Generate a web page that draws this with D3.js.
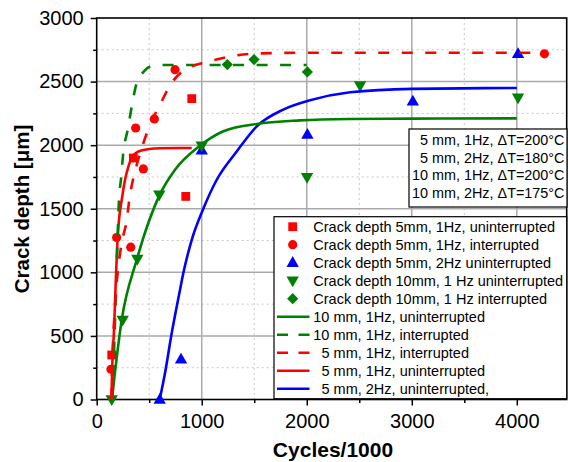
<!DOCTYPE html>
<html><head><meta charset="utf-8">
<script src="https://cdn.jsdelivr.net/npm/d3@7"></script>
<style>
html,body{margin:0;padding:0;background:#fff;}
svg{display:block;font-family:"Liberation Sans",Arial,sans-serif;}
</style></head>
<body><svg id="c" width="568" height="462"></svg>
<script>
// ---- data ----
const xTicks = [0, 1000, 2000, 3000, 4000];
const yTicks = [0, 500, 1000, 1500, 2000, 2500, 3000];
const xMinor = [500, 1500, 2500, 3500];
const yMinor = [250, 750, 1250, 1750, 2250, 2750];

const sq5mm1HzUnint = [[143,350],[349,1899],[848,1597],[905,2366]];
const ci5mm1HzInt = [[136,238],[190,1274],[324,1198],[371,2135],[444,1813],[549,2206],[746,2594],[4263,2718]];
const tri5mm2HzUnint = [[600,0],[803,316],[1000,1959],[2006,2083],[3010,2345],[4012,2718]];
const tri10mm1HzUnint = [[143,0],[247,626],[387,1106],[596,1610],[1000,1996],[2003,1748],[2508,2469],[4012,2374]];
const dia10mm1HzInt = [[1244,2634],[1498,2673],[2006,2576]];

const fit10mm1HzUnint = [[145,0],[238,626],[381,1098],[603,1615],[746,1807],[984,1996],[1206,2109],[1524,2167],[1937,2195],[2413,2206],[3000,2209],[4000,2211]];
const fit10mm1HzInt = [[150,0],[170,500],[185,900],[200,1300],[212,1570],[231,1730],[253,1940],[295,2120],[333,2300],[381,2490],[450,2580],[510,2618],[600,2630],[2000,2630]];
const fit5mm1HzInt = [[140,0],[150,340],[168,650],[184,860],[206,1045],[238,1230],[286,1410],[317,1610],[333,1680],[400,1900],[444,2015],[508,2160],[603,2320],[714,2490],[800,2570],[905,2620],[1000,2645],[1100,2665],[1250,2695],[1500,2720],[2000,2727],[4250,2727]];
const fit5mm1HzUnint = [[140,0],[149,285],[165,550],[181,915],[200,1280],[244,1600],[270,1730],[301,1830],[333,1900],[396,1950],[500,1970],[600,1976],[905,1978]];
const fit5mm2HzUnint = [[600,0],[650,206],[714,521],[793,862],[825,994],[905,1256],[1015,1500],[1143,1728],[1333,1950],[1524,2148],[1777,2280],[2031,2353],[2413,2416],[3000,2443],[4000,2450]];

const annotLines = ["5 mm, 1Hz, \u0394T=200\u00B0C","5 mm, 2Hz, \u0394T=180\u00B0C","10 mm, 1Hz, \u0394T=200\u00B0C","10 mm, 2Hz, \u0394T=175\u00B0C"];

const RED="#ff0000", GREEN="#008000", BLUE="#0000ff";

// ---- layout ----
const svg = d3.select("#c");
const L=96.7, R=566.7, T=18, B=399.5;
const x = d3.scaleLinear().domain([0,4475]).range([L,R]);
const y = d3.scaleLinear().domain([0,3000]).range([B,T]);

// grid
const g = svg.append("g");
g.selectAll(".mnx").data(xMinor).enter().append("line")
 .attr("x1",d=>x(d)).attr("x2",d=>x(d)).attr("y1",T).attr("y2",B)
 .attr("stroke","#c8c8c8").attr("stroke-width",1).attr("stroke-dasharray","2,3");
g.selectAll(".mny").data(yMinor).enter().append("line")
 .attr("x1",L).attr("x2",R).attr("y1",d=>y(d)).attr("y2",d=>y(d))
 .attr("stroke","#c8c8c8").attr("stroke-width",1).attr("stroke-dasharray","2,3");
g.selectAll(".mjx").data(xTicks.filter(d=>d>0)).enter().append("line")
 .attr("x1",d=>x(d)).attr("x2",d=>x(d)).attr("y1",T).attr("y2",B)
 .attr("stroke","#aaaaaa").attr("stroke-width",1.5);
g.selectAll(".mjy").data(yTicks.filter(d=>d>0&&d<3000)).enter().append("line")
 .attr("x1",L).attr("x2",R).attr("y1",d=>y(d)).attr("y2",d=>y(d))
 .attr("stroke","#aaaaaa").attr("stroke-width",1.5);

// axes
const xAx = svg.append("g").attr("transform",`translate(0,${B})`)
 .call(d3.axisBottom(x).tickValues(xTicks).tickSize(6).tickPadding(8).tickFormat(d3.format("d")));
const xAxMinor = svg.append("g").attr("transform",`translate(0,${B})`)
 .call(d3.axisBottom(x).tickValues(xMinor).tickSize(3.5).tickFormat(""));
const yAx = svg.append("g").attr("transform",`translate(${L},0)`)
 .call(d3.axisLeft(y).tickValues(yTicks).tickSize(6).tickPadding(7).tickFormat(d3.format("d")));
const yAxMinor = svg.append("g").attr("transform",`translate(${L},0)`)
 .call(d3.axisLeft(y).tickValues(yMinor).tickSize(3.5).tickFormat(""));
[xAx,xAxMinor,yAx,yAxMinor].forEach(a=>{
  a.select(".domain").remove();
  a.selectAll("line").attr("stroke","#000").attr("stroke-width",1.5);
  a.selectAll("text").attr("font-size",20).attr("fill","#000").attr("font-family","Liberation Sans, Arial, sans-serif");
});
// frame
svg.append("rect").attr("x",L).attr("y",T).attr("width",R-L).attr("height",B-T)
 .attr("fill","none").attr("stroke","#000").attr("stroke-width",1.6);

// titles
svg.append("text").attr("x",333).attr("y",457).attr("text-anchor","middle")
 .attr("font-size",21).attr("font-weight","bold").text("Cycles/1000");
svg.append("text").attr("transform","translate(29,209) rotate(-90)").attr("text-anchor","middle")
 .attr("font-size",20.5).attr("font-weight","bold").text("Crack depth [\u03BCm]");

// marker shapes
const shapes = {
  square: "M-4.4,-4.4H4.4V4.4H-4.4Z",
  circle: "M4.6,0A4.6,4.6 0 1,1 -4.6,0A4.6,4.6 0 1,1 4.6,0Z",
  up: "M0,-6.6L6.2,4.2L-6.2,4.2Z",
  down: "M0,6.6L6.2,-4.2L-6.2,-4.2Z",
  diamond: "M0,-5.6L5.6,0L0,5.6L-5.6,0Z"
};
function markers(data, shape, color){
  svg.append("g").selectAll("path").data(data).enter().append("path")
   .attr("d",shapes[shape]).attr("fill",color)
   .attr("transform",d=>`translate(${x(d[0])},${y(d[1])})`);
}
markers(sq5mm1HzUnint,"square",RED);
markers(ci5mm1HzInt,"circle",RED);
markers(tri5mm2HzUnint,"up",BLUE);
markers(tri10mm1HzUnint,"down",GREEN);
markers(dia10mm1HzInt,"diamond",GREEN);

// fit curves
const line = d3.line().x(d=>x(d[0])).y(d=>y(d[1])).curve(d3.curveMonotoneX);
const DASH="11,12.5";
function curve(data,color,dash){
  svg.append("path").datum(data).attr("d",line).attr("fill","none")
   .attr("stroke",color).attr("stroke-width",2.6).attr("stroke-dasharray",dash||null);
}
curve(fit5mm2HzUnint,BLUE);
curve(fit10mm1HzUnint,GREEN);
curve(fit5mm1HzUnint,RED);
curve(fit10mm1HzInt,GREEN,DASH);
curve(fit5mm1HzInt,RED,DASH);

// annotation box
const ab = svg.append("g");
ab.append("rect").attr("x",409).attr("y",129).attr("width",158).attr("height",78)
 .attr("fill","#fff").attr("stroke","#000").attr("stroke-width",1.2);
ab.selectAll("text").data(annotLines).enter().append("text")
 .attr("x",564.5).attr("y",(d,i)=>145+i*17.6).attr("text-anchor","end")
 .attr("font-size",14.4).text(d=>d);

// legend
const legendItems = [
  {label:"Crack depth 5mm, 1Hz, uninterrupted", shape:"square", color:RED},
  {label:"Crack depth 5mm, 1Hz, interrupted", shape:"circle", color:RED},
  {label:"Crack depth 5mm, 2Hz uninterrupted", shape:"up", color:BLUE},
  {label:"Crack depth 10mm, 1 Hz uninterrupted", shape:"down", color:GREEN},
  {label:"Crack depth 10mm, 1 Hz interrupted", shape:"diamond", color:GREEN},
  {label:"10 mm, 1Hz, uninterrupted", line:true, color:GREEN},
  {label:"10 mm, 1Hz, interrupted", line:true, dash:true, color:GREEN},
  {label:"5 mm, 1Hz, interrupted", line:true, dash:true, color:RED, indent:true},
  {label:"5 mm, 1Hz, uninterrupted", line:true, color:RED, indent:true},
  {label:"5 mm, 2Hz, uninterrupted,", line:true, color:BLUE, indent:true}
];
const lg = svg.append("g");
lg.append("rect").attr("x",274).attr("y",216.7).attr("width",292.7).attr("height",182)
 .attr("fill","#fff").attr("stroke","#000").attr("stroke-width",1.2);
legendItems.forEach((it,i)=>{
  const cy = 226.7 + i*18;
  if(it.line){
    lg.append("line").attr("x1",277).attr("x2",309.5).attr("y1",cy).attr("y2",cy)
     .attr("stroke",it.color).attr("stroke-width",2.6).attr("stroke-dasharray",it.dash?"11,10.5":null);
  } else {
    lg.append("path").attr("d",shapes[it.shape]).attr("fill",it.color)
     .attr("transform",`translate(292.7,${cy})`);
  }
  lg.append("text").attr("x",it.indent?321.5:313.3).attr("y",cy+5.2)
   .attr("font-size",14.5).text(it.label);
});
</script></body></html>
